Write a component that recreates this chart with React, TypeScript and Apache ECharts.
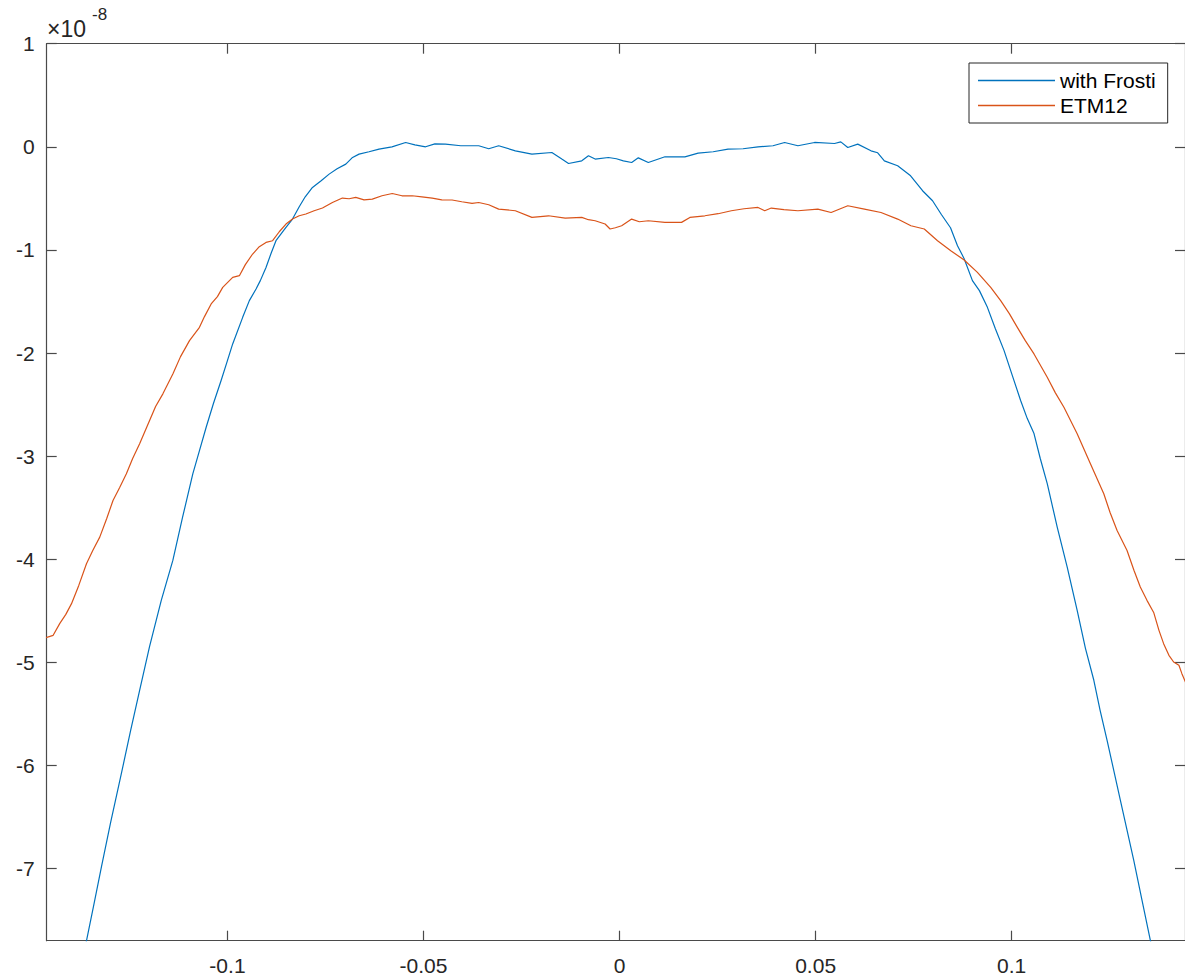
import React, { useEffect, useRef } from "react";
import * as echarts from "echarts";

// Profiles in units of 1e-8 (y) against position (x)
const frostiX = [
  -0.13654, -0.13596, -0.1341, -0.13214, -0.12978, -0.12705, -0.12469, -0.1224, -0.11986, -0.11688,
  -0.11393, -0.11146, -0.10884, -0.10714, -0.10543, -0.10358, -0.10162, -0.10001, -0.09867, -0.09612,
  -0.09442, -0.09271, -0.09162, -0.09017, -0.08882, -0.08763, -0.08508, -0.08341, -0.0817, -0.08017,
  -0.07832, -0.07611, -0.07407, -0.07204, -0.06982, -0.06822, -0.06644, -0.0639, -0.06135, -0.05805,
  -0.05456, -0.0522, -0.04947, -0.04711, -0.04439, -0.04049, -0.03592, -0.03337, -0.03083, -0.02658,
  -0.02236, -0.01727, -0.01473, -0.01302, -0.00964, -0.00794, -0.00623, -0.00285, -0.00081, 0.00097,
  0.00308, 0.00478, 0.00733, 0.01157, 0.01666, 0.02004, 0.02386, 0.02767, 0.03149, 0.03531,
  0.03912, 0.0421, 0.04548, 0.04973, 0.05481, 0.05642, 0.0582, 0.06074, 0.06412, 0.06583,
  0.06753, 0.07092, 0.07422, 0.07727, 0.07982, 0.08211, 0.0844, 0.08618, 0.08788, 0.08999,
  0.09177, 0.09381, 0.09584, 0.09806, 0.10017, 0.10228, 0.10398, 0.10569, 0.10729, 0.10907,
  0.11161, 0.11416, 0.1167, 0.11881, 0.12095, 0.12255, 0.12433, 0.12771, 0.13112, 0.13323,
  0.13535, 0.13603,
];
const frostiY = [
  -7.81, -7.701, -7.355, -6.984, -6.55, -6.078, -5.659, -5.271, -4.845, -4.399,
  -4.012, -3.595, -3.172, -2.946, -2.72, -2.49, -2.267, -2.074, -1.912, -1.654,
  -1.492, -1.379, -1.298, -1.17, -1.027, -0.911, -0.782, -0.701, -0.581, -0.485,
  -0.394, -0.329, -0.265, -0.213, -0.168, -0.107, -0.071, -0.048, -0.022, 0.0,
  0.042, 0.019, 0.0, 0.029, 0.026, 0.01, 0.01, -0.019, 0.01, -0.039,
  -0.071, -0.055, -0.119, -0.162, -0.136, -0.087, -0.119, -0.104, -0.116, -0.136,
  -0.152, -0.107, -0.152, -0.097, -0.097, -0.061, -0.048, -0.022, -0.019, 0.0,
  0.01, 0.042, 0.01, 0.042, 0.032, 0.048, -0.007, 0.026, -0.039, -0.058,
  -0.136, -0.184, -0.281, -0.426, -0.523, -0.659, -0.785, -0.959, -1.085, -1.298,
  -1.395, -1.557, -1.764, -1.977, -2.219, -2.461, -2.636, -2.781, -3.023, -3.266,
  -3.689, -4.077, -4.496, -4.864, -5.174, -5.465, -5.756, -6.337, -6.919, -7.306,
  -7.694, -7.81,
];

const etm12X = [
  -0.14682, -0.14445, -0.14275, -0.14122, -0.13977, -0.13792, -0.13596, -0.13435, -0.13257, -0.13079,
  -0.12919, -0.12749, -0.12578, -0.12418, -0.1224, -0.11986, -0.11833, -0.11647, -0.11393, -0.11197,
  -0.10968, -0.10714, -0.10586, -0.10416, -0.10256, -0.10121, -0.09867, -0.09696, -0.09544, -0.09358,
  -0.09188, -0.09017, -0.08849, -0.08679, -0.08508, -0.08341, -0.0817, -0.08, -0.07789, -0.07577,
  -0.07323, -0.07069, -0.06898, -0.06728, -0.06517, -0.06306, -0.06059, -0.05797, -0.0555, -0.05288,
  -0.05041, -0.04779, -0.04533, -0.04271, -0.04024, -0.03762, -0.03592, -0.03337, -0.03083, -0.02658,
  -0.02236, -0.01811, -0.01386, -0.00964, -0.00794, -0.00623, -0.00369, -0.00242, -0.00107, 0.00053,
  0.00308, 0.00504, 0.00733, 0.01157, 0.0158, 0.01793, 0.02175, 0.02513, 0.02851, 0.03174,
  0.03531, 0.03701, 0.03869, 0.04192, 0.04548, 0.05057, 0.05395, 0.0582, 0.06245, 0.06667,
  0.07092, 0.0743, 0.07771, 0.08109, 0.08447, 0.08788, 0.09126, 0.09465, 0.09719, 0.0994,
  0.10144, 0.10347, 0.10569, 0.10907, 0.11111, 0.11332, 0.1167, 0.12008, 0.12349, 0.12509,
  0.12688, 0.12942, 0.1312, 0.1328, 0.1345, 0.13621, 0.13756, 0.13875, 0.1401, 0.1413,
  0.14265, 0.14341, 0.14468,
];
const etm12Y = [
  -4.767, -4.738, -4.622, -4.535, -4.431, -4.254, -4.044, -3.915, -3.786, -3.605,
  -3.43, -3.304, -3.172, -3.023, -2.881, -2.655, -2.519, -2.396, -2.203, -2.035,
  -1.88, -1.751, -1.647, -1.524, -1.453, -1.363, -1.266, -1.25, -1.143, -1.04,
  -0.969, -0.927, -0.911, -0.824, -0.749, -0.701, -0.669, -0.652, -0.62, -0.594,
  -0.54, -0.497, -0.504, -0.491, -0.514, -0.507, -0.475, -0.453, -0.475, -0.475,
  -0.485, -0.497, -0.514, -0.516, -0.533, -0.549, -0.54, -0.562, -0.604, -0.62,
  -0.685, -0.669, -0.691, -0.685, -0.707, -0.717, -0.749, -0.797, -0.785, -0.766,
  -0.701, -0.727, -0.717, -0.733, -0.733, -0.685, -0.669, -0.649, -0.62, -0.601,
  -0.588, -0.62, -0.594, -0.61, -0.62, -0.604, -0.637, -0.572, -0.604, -0.637,
  -0.701, -0.766, -0.797, -0.911, -1.008, -1.098, -1.218, -1.363, -1.492, -1.618,
  -1.751, -1.88, -2.009, -2.235, -2.384, -2.526, -2.784, -3.074, -3.365, -3.547,
  -3.721, -3.915, -4.109, -4.27, -4.399, -4.516, -4.69, -4.819, -4.932, -4.997,
  -5.029, -5.11, -5.223,
];

const xTicks = [-0.1, -0.05, 0, 0.05, 0.1];
const yTicks = [-7, -6, -5, -4, -3, -2, -1, 0, 1];
const xLimits = [-0.1461, 0.1442];
const yLimits = [-7.7, 1];

const seriesNames = ["with Frosti", "ETM12"];
const seriesColors = ["#0072BD", "#D95319"];

const FONT = "'Liberation Sans', Arial, Helvetica, sans-serif";
const AXIS_COLOR = "#4a4a4a";
const TEXT_COLOR = "#262626";

function zip(xs: number[], ys: number[]) {
  return xs.map((x, i) => [x, ys[i]]);
}

function makeAxis(kind: "x" | "y", position: string, withLabels: boolean) {
  const ticks = kind === "x" ? xTicks : yTicks;
  const lim = kind === "x" ? xLimits : yLimits;
  return {
    type: "value",
    position,
    min: lim[0],
    max: lim[1],
    axisLine: { show: true, onZero: false, lineStyle: { color: AXIS_COLOR, width: 1.2 } },
    axisTick: {
      show: true,
      inside: true,
      length: 10,
      customValues: ticks,
      lineStyle: { color: AXIS_COLOR, width: 1.2 },
    },
    axisLabel: {
      show: withLabels,
      customValues: ticks,
      margin: kind === "x" ? 14 : 12,
      fontSize: 21,
      fontFamily: FONT,
      color: TEXT_COLOR,
    },
    splitLine: { show: false },
  };
}

export default function App() {
  const ref = useRef<HTMLDivElement>(null);

  useEffect(() => {
    if (!ref.current) return;
    const chart = echarts.init(ref.current, undefined, { renderer: "svg" });
    chart.setOption({
      animation: false,
      backgroundColor: "#ffffff",
      grid: { left: 46.7, top: 43.7, right: -3, bottom: 37.3, containLabel: false },
      xAxis: [makeAxis("x", "bottom", true), makeAxis("x", "top", false)],
      yAxis: [makeAxis("y", "left", true), makeAxis("y", "right", false)],
      legend: {
        orient: "vertical",
        left: 969,
        top: 63,
        padding: [7, 12, 7, 9],
        icon: "rect",
        itemWidth: 77,
        itemHeight: 1.4,
        itemGap: 4,
        backgroundColor: "#ffffff",
        borderColor: "#262626",
        borderWidth: 1,
        borderRadius: 0,
        textStyle: { fontSize: 21, fontFamily: FONT, color: "#000000" },
        data: seriesNames,
      },
      graphic: [
        {
          type: "text",
          left: 47,
          top: 17,
          style: { text: "×10", fontSize: 23, fontFamily: FONT, fill: TEXT_COLOR },
        },
        {
          type: "text",
          left: 92,
          top: 6,
          style: { text: "-8", fontSize: 17, fontFamily: FONT, fill: TEXT_COLOR },
        },
      ],
      series: [
        {
          name: seriesNames[0],
          type: "line",
          data: zip(frostiX, frostiY),
          showSymbol: false,
          symbol: "none",
          clip: true,
          color: seriesColors[0],
          lineStyle: { color: seriesColors[0], width: 1.2 },
        },
        {
          name: seriesNames[1],
          type: "line",
          data: zip(etm12X, etm12Y),
          showSymbol: false,
          symbol: "none",
          clip: true,
          color: seriesColors[1],
          lineStyle: { color: seriesColors[1], width: 1.2 },
        },
      ],
    });
    return () => chart.dispose();
  }, []);

  return (
    <div
      ref={ref}
      style={{ position: "fixed", left: 0, top: 0, width: 1185, height: 978, background: "#fff" }}
    />
  );
}
